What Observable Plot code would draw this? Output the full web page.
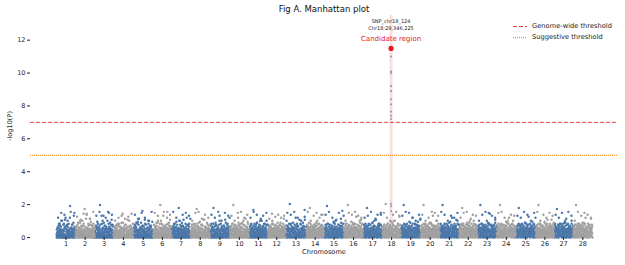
<!DOCTYPE html>
<html><head><meta charset="utf-8">
<script src="https://cdn.jsdelivr.net/npm/d3@7"></script>
<script src="https://cdn.jsdelivr.net/npm/@observablehq/plot@0.6"></script>
<style>body{margin:0;background:#fff}</style>
</head><body><div id="chart"></div>
<script>
// ---------- data ----------
const chromosomes = [1,2,3,4,5,6,7,8,9,10,11,12,13,14,15,16,17,18,19,20,21,22,23,24,25,26,27,28];
const chrLengthMb = [64.4,65.4,63.4,66.8,67.8,62.0,64.4,65.4,67.8,64.4,64.4,60.0,70.2,59.7,67.8,64.4,65.8,62.0,67.8,64.4,65.4,62.4,65.4,64.4,67.8,62.0,64.4,65.8];
// -log10(P) of background SNPs, one character per SNP (base-36 code x 0.06).
// Each string's SNPs are spread along the whole chromosome.
const codeStep = 0.06;
const snpCodesMain = [
  "3015204a1627e03915c20418h0253106" + "72041e3009b12k6031208d40b5170362" + "0419w3205163a28d0142750921p03518",
  "1402638b0315f2207a4105392i0614b2" + "50317c2048016t2503a7140o2906318e" + "2405193j0162d8403517c20615092a41",
  "0625140c3102g8415b02739140x25031" + "4172e0351906m2403c8152062a170935" + "1054q2083b1640f2719305i2180d5302",
  "2301547a0213c6051920e74103b26014" + "8305216f0193o2480615a3027192d041" + "0631i4205812b30741c9205162430815",
  "4102639d0251a7f1302846g0153j2071" + "0528314b2097r1402c6305190e416203" + "3160825a1043h7201b9405c2170640318",
  "1520473c0614b208f3951402h0735126" + "0294x3150826e1403a7290516b401832" + "5102d3740q1906283c1504a2i0731602",
  "0834152b6203e9140a725061g3028104" + "6105u3249082d1560b3170428c51i036" + "2071954a0316k2805c1493062e710253",
  "3250714d0862a1395e0241673b0582t0" + "1406c3928150a7g3041620519d380214" + "5023i1764b0952031f8425160a739041",
  "1740253e0618b3092u4160825c3f1047" + "0935162a4082d7m315064920b1708326" + "4061c3852i0174a203596e14083b2750",
  "0625319b4071e2830x1564092c318605" + "2174a0935k6102d8430517b9260413f0" + "5309h1627204c5381906a4270g513082",
  "2073581c4910e2638a0175s4206b1943" + "0528d1630f7249015b3082a61470j235" + "1946a0352c8710462e3951082h7405d3",
  "0461375b2809c1534a0672o1389e5041" + "3825a1609d4170352b8614093c72a305" + "1703f4260958b1427a0395j6241c0850",
  "5320h4108c3697a2051y4830e2176b04" + "1859a0342d6701k5390b2148c6371052" + "4023e9160745a382f1096b425i073158",
  "0648291c5037a1f4520u9362b0814735" + "3015b7942a6081d3576140c9253h0419" + "2605e3108a4927c51n0634b82051a736",
  "1804563d2907a1w3584e0261b8350912" + "6039c1475a2803f4917b6302580i4163" + "0285d4031a6973b52j0814c36029e154",
  "3709251e4106b8320a5x1493c7061528" + "4152g6038a1794d2506b3819e4062l71" + "0951a3628c4071b53f9260i148d05327",
  "2508613b4920e7135a0u8246c3197052" + "5037d1942a6085f3719b2460c8153j64" + "1860a4239c7015b3e9426180n3527041",
  "4061b2837d5190a34y6025c8173e9402" + "0735a1649c2815g7304b9612d5803h71" + "3927b6041a8250c13e6295017l480362",
  "1596c3072a4816x2509d7134b6280e53" + "8205b4173g9260a41835c7062k193045" + "2714e5908a3162d7409b5386c2013i57",
  "0372a6158d4903x1627b5084e3169c02" + "4619b2057e3840a6192f7305c8416m29" + "5803c1472a9361h5024b8719d3062a54",
  "3186a4029c6751x3804b9261e5037a14" + "7025d3918b6402f5730a1869c2045k38" + "1493a7620e5218b4c9036271h5804d92",
  "6029b3514a8170e2u9653c0418b26735" + "0841d5362a9107c4283f5601b9274j16" + "3570a2184c6930e5d7102843a6b15920",
  "2758c4091a6317x0524e8361b4907d25" + "9316a5028b7402h6385c1907e2645o13" + "0482d6153a9720c4b8165039f2714a68",
  "4830b2169e5702a3x6148c2905d37164" + "1507a6384c9215g4083b7610e5392k48" + "6294c1570a3816e2d9405173b8062a49",
  "0917a5263c8041u5392d6170b4825e36" + "5204c8139a6047f2851b3906d7124l95" + "3861e0472a5936c1b7048259d3610a74",
  "7123b5096d2840x3615a9072e5148c36" + "2058c7314a9602g5183b4067d2935i10" + "4796a1035e8264c5b0917362a4085f13",
  "1405c7293a6180t3957d2046b8513e62" + "6382a1407c9253e6041b8735f2906j14" + "0537d9216a4803c7b5190624e3758a12",
  "3068b5124d7901x2643a8059c3172e46" + "0951c4628a3170f9402b6835d1267k03" + "5289a7014e6352c0b9416837a2591d40"
];
const snpCodesMid = [
  "8a6c9e7b6h8d7ai9c6b8e7k9a6d8f7b9", "9b7d6a8f7c9h6e8b7j9a6c8d7g6b9e7a",
  "7c9a8e6b9d7m8a6f9c7b8h6e9a7d8c6b", "6b8a9d7c6e8b9a7f6c8d9a7b6h8c9a7e",
  "a7c9b6e8d7a9f6c8b7i9d6a8e7c9b6g8", "8d6a9c7f8b6e9a7d8m6c9b7a8e6f9c7b",
  "9a7c8e6b9d7a8h6c9f7b8a6e9c7d8b6j", "7b9d6a8c7e9b6f8a7d9c6i8b7a9e6c8d",
  "6c8a9e7b6d8c9a7h6e8b9c7a6f8d9b7k", "a8c6e9b7d8a6c9f7b8e6a9d7c8j6b9e7",
  "8b6d9a7c8e6b9f7a8d6c9h7b8e6a9c7d", "7a9c6b8e7d9a6c8b7f9a6d8c7b9e6a8c",
  "9c7a8e6d9b7f8a6c9e7b8i6d9a7c8l6b", "6d8b9a7e6c8a9d7b6f8c9e7a6b8d9c7h",
  "8a9c7e6b8d9a7c6g8e9b7a6d8c9f7b6m", "a6c8e9b7d6a8c9f7e6b8a9d7c6h8b9e7",
  "7d9a6c8b7e9d6a8f7c9b6i8a7e9c6d8b", "9b6d8a7c9e6b8d7a9f6c8h7b9a6e8c7d",
  "6a8c9e7b6d8a9c7f6b8e9a7d6c8g9b7j", "8c6a9e7d8b6c9a7f8e6d9b7a8c6h9e7b",
  "7e9c6a8d7b9e6c8a7g9d6b8c7a9i6e8d", "9a7d8c6e9b7a8f6d9c7b8e6a9h7c8d6b",
  "6b9d7a8e6c9b7d8a6f9e7c8b6a9d7i8c", "8d7a9c6e8b7d9a6c8f7e9b6d8a7h9c6b",
  "a9c7e6b8d9a7c6f8e9b7d6a8c9g7e6bk", "7c8a6e9d7b8c6a9f7d8e6b9c7a8i6d9b",
  "9e6b8a7d9c6e8b7a9f6c8d7e9b6a8h7c", "6a9d8c7e6b9a8d7c6f9e8b7a6c9d8j7b"
];
const snpCodesHigh = [
  "kpnhqm", "lhonjq", "mqhkpn", "hkmjlo", "njpkhq", "pmhqkn", "qkhnpm",
  "hpqjnk", "nkqhpm", "mhpqkn", "kqnhmp", "jhlnkm", "pnqkhs", "qhmpkn",
  "nqkhpr", "hpnqmk", "kmqhnp", "pkhnqm", "mqpkhn", "nhkqpm", "qnhmkp",
  "kpqhnm", "hnqpmk", "pqkhnm", "mkqnhp", "qhnkpm", "nkphqm", "hqmpnk"
];
// candidate region on chromosome 18
const peakChr = 18;
const peakPosMb = [29.10, 29.20, 29.30, 29.40, 29.50, 29.25, 29.45, 29.15, 29.55, 29.60, 29.00, 29.70, 29.80];
const peakLogP  = [11.0, 10.1, 10.0, 9.2, 8.9, 8.4, 8.1, 7.65, 7.4, 7.2, 2.05, 1.9, 1.6];
const leadSnpId = "SNP_chr18_124";
const leadSnpLabel = "Chr18:29,346,225";
const leadPosMb = 29.346225;
const leadLogP = 11.5;
const genomeWideThreshold = 7;
const suggestiveThreshold = 5;
const yTicks = [0, 2, 4, 6, 8, 10, 12];
const titleText = "Fig A. Manhattan plot";
const xLabel = "Chromosome";
const yLabel = "-log10(P)";
const legendLabels = ["Genome-wide threshold", "Suggestive threshold"];

// ---------- build ----------
const offsets = [];
let acc = 0;
for (const len of chrLengthMb) { offsets.push(acc); acc += len; }
const totalLen = acc;
const centers = chrLengthMb.map((len, i) => offsets[i] + len / 2);
const centerToChr = new Map(centers.map((c, i) => [c, chromosomes[i]]));

const points = [];
[snpCodesMain, snpCodesMid, snpCodesHigh].forEach(set => {
  set.forEach((s, ci) => {
    const n = s.length;
    for (let i = 0; i < n; i++) {
      points.push({
        chr: chromosomes[ci],
        x: offsets[ci] + chrLengthMb[ci] * (i + 0.5) / n,
        y: parseInt(s[i], 36) * codeStep
      });
    }
  });
});
const pci = chromosomes.indexOf(peakChr);
const peakPoints = peakPosMb.map((p, i) => ({x: offsets[pci] + p, y: peakLogP[i]}));
const lead = {x: offsets[pci] + leadPosMb, y: leadLogP};

const BLUE = "#4a76a8", GRAY = "#a0a0a0", RED = "#e41a1c", ORANGE = "#ff9a30";
const pad = totalLen * 26 / 536;

const chart = Plot.plot({
  width: 625, height: 265,
  marginLeft: 30, marginRight: 7, marginTop: 15, marginBottom: 28,
  style: {fontFamily: "DejaVu Sans", fontSize: "6.5px", color: "#222", background: "#fff"},
  x: {domain: [-pad, totalLen + pad], axis: null},
  y: {domain: [0, 13.5], axis: null},
  marks: [
    Plot.ruleX([lead], {x: "x", stroke: RED, strokeOpacity: 0.14, strokeWidth: 3}),
    Plot.ruleY([genomeWideThreshold], {stroke: RED, strokeOpacity: 0.8, strokeWidth: 1, strokeDasharray: "4,2"}),
    Plot.ruleY([suggestiveThreshold], {stroke: ORANGE, strokeWidth: 1.3, strokeDasharray: "1,1"}),
    Plot.dot(points.filter(d => d.chr % 2 === 1), {x: "x", y: "y", r: 1.2, fill: BLUE, stroke: "none"}),
    Plot.dot(points.filter(d => d.chr % 2 === 0), {x: "x", y: "y", r: 1.2, fill: GRAY, stroke: "none"}),
    Plot.dot(peakPoints, {x: "x", y: "y", r: 1.1, fill: GRAY, stroke: "none"}),
    Plot.dot([lead], {x: "x", y: "y", r: 2.6, fill: RED, stroke: "none"}),
    Plot.text([lead], {x: "x", y: "y", text: () => "Candidate region", dy: -9.5, fill: RED, fontSize: 7}),
    Plot.text([lead], {x: "x", y: "y", text: () => leadSnpLabel, dy: -20, fill: "#222", fontSize: 5}),
    Plot.text([lead], {x: "x", y: "y", text: () => leadSnpId, dy: -27, fill: "#222", fontSize: 5}),
    Plot.axisY(yTicks, {tickSize: 3, tickPadding: 2, label: null}),
    Plot.axisX(centers, {tickSize: 3, tickPadding: 1, label: null, tickFormat: d => centerToChr.get(d)})
  ]
});

const svg = d3.select(chart);
svg.append("text").attr("x", 324).attr("y", 9).attr("text-anchor", "middle").attr("dominant-baseline", "middle")
  .attr("font-size", 8.5).attr("fill", "#111").text(titleText);
svg.append("text").attr("x", 324).attr("y", 252).attr("text-anchor", "middle").attr("dominant-baseline", "middle")
  .attr("font-size", 6.6).attr("fill", "#222").text(xLabel);
svg.append("text").attr("transform", "translate(10,126) rotate(-90)").attr("text-anchor", "middle").attr("dominant-baseline", "middle")
  .attr("font-size", 6.6).attr("fill", "#222").text(yLabel);
const lg = svg.append("g");
[[RED, "4,2", 0.8, 1.1], [ORANGE, "1,1", 1, 1.3]].forEach(([c, dash, op, sw], i) => {
  const y = 26.5 + i * 11;
  lg.append("line").attr("x1", 513).attr("x2", 527).attr("y1", y).attr("y2", y)
    .attr("stroke", c).attr("stroke-opacity", op).attr("stroke-width", sw).attr("stroke-dasharray", dash);
  lg.append("text").attr("x", 532).attr("y", y).attr("text-anchor", "start").attr("dominant-baseline", "middle")
    .attr("font-size", 6.7).attr("fill", "#222").text(legendLabels[i]);
});
document.getElementById("chart").appendChild(chart);
</script>
</body></html>
